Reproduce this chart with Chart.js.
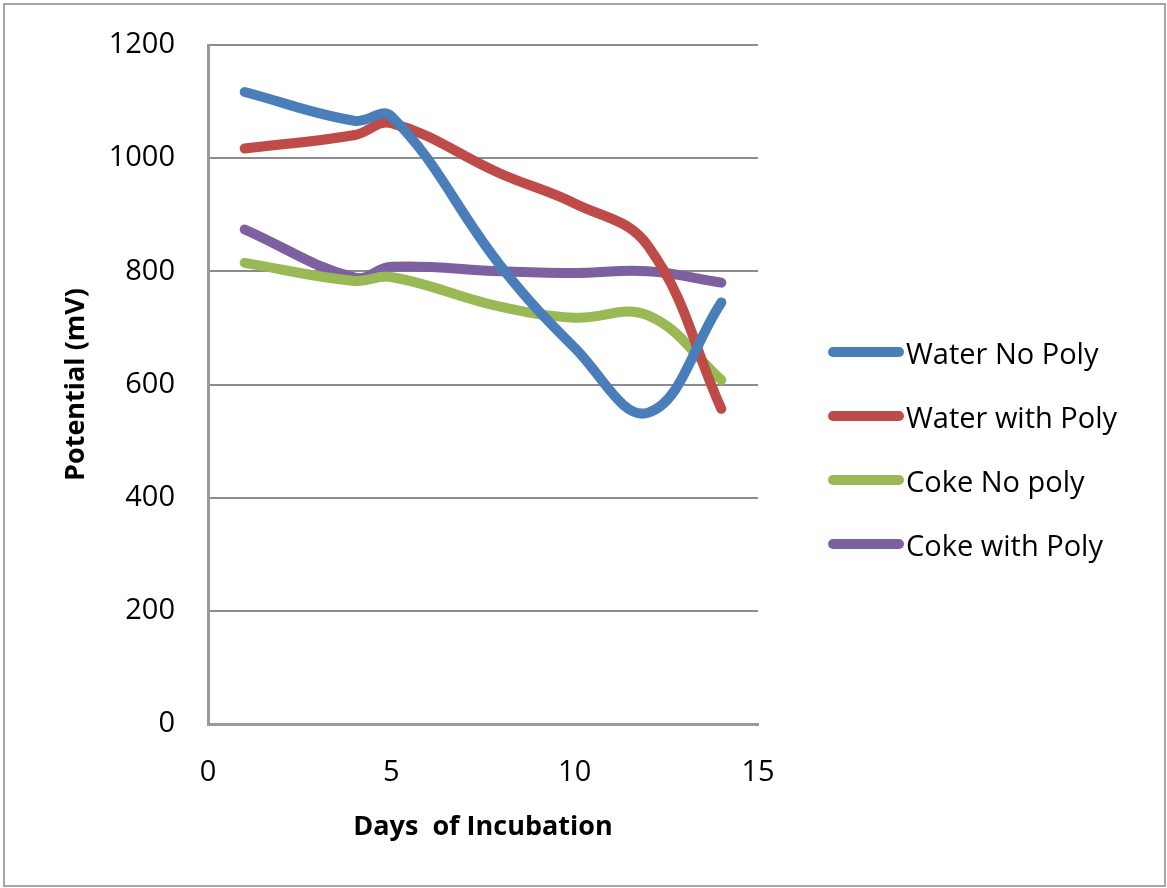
<!DOCTYPE html>
<html>
<head>
<meta charset="utf-8">
<script src="https://cdn.jsdelivr.net/npm/chart.js@4.4.1/dist/chart.umd.min.js"></script>
<style>
  body { margin: 0; background: #fff; }
  #wrap { position: relative; width: 1167px; height: 888px; }
  #frame { position: absolute; left: 3px; top: 3px; width: 1159px; height: 880px; border: 2px solid #a6a6a6; pointer-events: none; }
  #legend { position: absolute; left: 828px; top: 320px; font-family: "Open Sans", sans-serif; font-size: 29px; color: #000; }
  #legend .item { display: flex; align-items: center; height: 64px; }
  #legend .swatch { width: 76px; height: 10px; border-radius: 5px; margin-right: 2px; }
</style>
</head>
<body>
<div id="wrap">
  <canvas id="potentialChart" width="1167" height="888"></canvas>
  <div id="frame"></div>
  <div id="legend"></div>
</div>
<script>
// Days of incubation and measured potentials (mV)
const days = [1, 4, 5, 8, 10, 12, 14];
const waterNoPoly = [1117, 1066, 1074, 808, 665, 550, 745];
const waterWithPoly = [1017, 1041, 1062, 972, 920, 845, 557];
const cokeNoPoly = [815, 783, 790, 737, 718, 722, 608];
const cokeWithPoly = [874, 789, 808, 800, 797, 800, 780];

const seriesNames = ['Water No Poly', 'Water with Poly', 'Coke No poly', 'Coke with Poly'];
const seriesColors = ['#4a7ebb', '#be4b48', '#98b954', '#7d60a0'];
const seriesValues = [waterNoPoly, waterWithPoly, cokeNoPoly, cokeWithPoly];

const yTicks = [0, 200, 400, 600, 800, 1000, 1200];
const xTicks = [0, 5, 10, 15];

const toPoints = values => values.map((v, i) => ({ x: days[i], y: v }));

const tickFont = { family: 'Open Sans', size: 29 };
const titleFont = { family: 'Open Sans', size: 27, weight: 'bold' };

const potentialChart = new Chart(document.getElementById('potentialChart'), {
    type: 'line',
    data: {
        datasets: seriesNames.map((name, i) => ({
            label: name,
            data: toPoints(seriesValues[i]),
            borderColor: seriesColors[i],
            backgroundColor: seriesColors[i],
            borderWidth: 10,
            borderCapStyle: 'round',
            borderJoinStyle: 'round',
            pointRadius: 0,
            tension: 0.4,
            fill: false
        }))
    },
    options: {
        responsive: false,
        animation: false,
        layout: { padding: { top: 45, right: 409, bottom: 0, left: 0 } },
        plugins: {
            legend: { display: false },
            tooltip: { enabled: false }
        },
        scales: {
            x: {
                type: 'linear',
                min: 0,
                max: 15,
                afterBuildTicks: scale => { scale.ticks = xTicks.map(v => ({ value: v })); },
                afterFit: scale => { scale.height = 164; scale.paddingLeft = 0; scale.paddingRight = 0; },
                grid: { display: false, drawTicks: false },
                border: { display: true, color: '#999999', width: 3 },
                ticks: { color: '#000', font: tickFont, padding: 31, maxRotation: 0, callback: v => String(v) },
                title: {
                    display: true,
                    text: 'Days  of Incubation',
                    color: '#000',
                    font: titleFont,
                    padding: { top: 0, bottom: 44 }
                }
            },
            y: {
                min: 0,
                max: 1200,
                afterBuildTicks: scale => { scale.ticks = yTicks.map(v => ({ value: v })); },
                afterFit: scale => { scale.width = 208; scale.paddingTop = 0; scale.paddingBottom = 0; },
                grid: { color: '#8c8c8c', lineWidth: 2, drawTicks: false },
                border: { display: true, color: '#999999', width: 3 },
                ticks: { color: '#000', font: tickFont, padding: 33, callback: v => String(v) },
                title: {
                    display: true,
                    text: 'Potential (mV)',
                    color: '#000',
                    font: titleFont,
                    padding: { top: 60, bottom: 0 }
                }
            }
        }
    }
});

// HTML legend built from the chart's own datasets
const legendBox = document.getElementById('legend');
potentialChart.data.datasets.forEach(ds => {
    const item = document.createElement('div');
    item.className = 'item';
    const swatch = document.createElement('span');
    swatch.className = 'swatch';
    swatch.style.background = ds.borderColor;
    const label = document.createElement('span');
    label.textContent = ds.label;
    item.appendChild(swatch);
    item.appendChild(label);
    legendBox.appendChild(item);
});
</script>
</body>
</html>
